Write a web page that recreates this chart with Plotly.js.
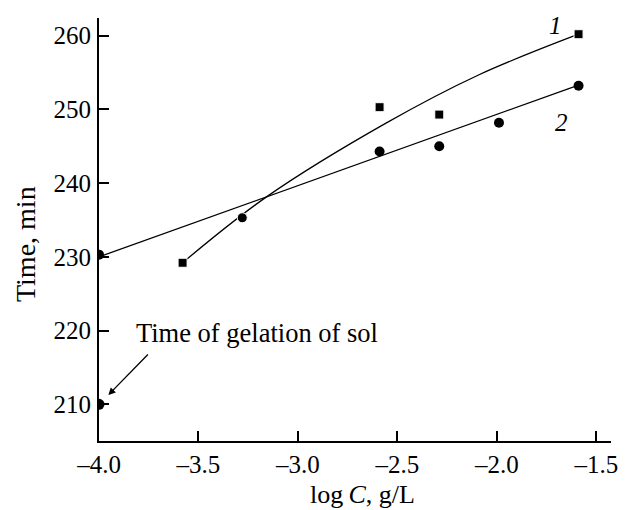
<!DOCTYPE html>
<html>
<head>
<meta charset="utf-8">
<script src="https://cdn.plot.ly/plotly-3.0.1.min.js"></script>
<style>html,body{margin:0;padding:0;background:#fff;}#chart{width:637px;height:510px;}</style>
</head>
<body>
<div id="chart"></div>
<script>
// Series 1 (squares) measured points
const x1 = [-3.58, -3.28, -2.59, -2.29, -1.59];
const y1 = [229.2, 235.3, 250.3, 249.3, 260.2];
const sym1 = ['square', 'circle', 'square', 'square', 'square'];
// Series 2 (circles) measured points
const x2 = [-4.0, -2.59, -2.29, -1.99, -1.59];
const y2 = [230.3, 244.3, 245.0, 248.2, 253.2];
// Gelation time of sol
const xGel = [-4.0];
const yGel = [210.0];
// Fitted curve 1
const fit1x = [-3.58, -3.16, -2.56, -2.09, -1.59];
const fit1y = [229.2, 238.1, 248.1, 254.7, 260.2];
// Fitted line 2
const fit2x = [-4.0, -1.59];
const fit2y = [230.0, 253.3];
// Ticks
const xTicks = [-4.0, -3.5, -3.0, -2.5, -2.0, -1.5];
const yTicks = [210, 220, 230, 240, 250, 260];

const FONT = 'Liberation Serif, Times New Roman, serif';
const traces = [
  {x: fit1x, y: fit1y, mode: 'lines', line: {color: '#000', width: 1.3, shape: 'spline', smoothing: 1}, hoverinfo: 'skip'},
  {x: fit2x, y: fit2y, mode: 'lines', line: {color: '#000', width: 1.3}, hoverinfo: 'skip'},
  {x: x1, y: y1, mode: 'markers', marker: {symbol: sym1, size: [9, 10, 9, 9, 9], color: '#000', opacity: 1}},
  {x: x2, y: y2, mode: 'markers', marker: {symbol: 'circle', size: 10, color: '#000', opacity: 1}},
  {x: xGel, y: yGel, mode: 'markers', marker: {symbol: 'circle', size: 11, color: '#000', opacity: 1}}
];

const layout = {
  width: 637, height: 510,
  margin: {l: 99, r: 26, t: 18, b: 69},
  paper_bgcolor: '#fff', plot_bgcolor: '#fff',
  showlegend: false,
  font: {family: FONT, color: '#000', size: 25},
  xaxis: {
    range: [-4.0, -1.427], tickvals: xTicks, ticktext: xTicks.map(v => (v < 0 ? '\u2013' : '') + Math.abs(v).toFixed(1)),
    ticks: 'inside', ticklen: 10, tickwidth: 2, tickcolor: '#000',
    showline: true, linewidth: 2, linecolor: '#000', mirror: false,
    showgrid: false, zeroline: false,
    tickfont: {family: FONT, size: 25, color: '#000'}
  },
  yaxis: {
    range: [205.02, 262.4], tickvals: yTicks,
    ticks: 'inside', ticklen: 10, tickwidth: 2, tickcolor: '#000',
    showline: true, linewidth: 2, linecolor: '#000', mirror: false,
    showgrid: false, zeroline: false,
    ticklabelstandoff: 1,
    tickfont: {family: FONT, size: 25, color: '#000'}
  },
  annotations: [
    {x: 0.5156, y: -0.1253, xref: 'paper', yref: 'paper', xanchor: 'center', yanchor: 'middle',
     text: 'log\u2009<i>C</i>, g/L', showarrow: false,
     font: {family: FONT, size: 26, color: '#000'}},
    {x: -0.1445, y: 0.4657, xref: 'paper', yref: 'paper', xanchor: 'center', yanchor: 'middle',
     text: 'Time, min', textangle: -90, showarrow: false,
     font: {family: FONT, size: 28, color: '#000'}},
    {x: -3.208, y: 219.67, xref: 'x', yref: 'y', xanchor: 'center', yanchor: 'middle',
     text: 'Time of gelation of sol', showarrow: false,
     font: {family: FONT, size: 26.5, color: '#000'}},
    {x: -3.953, y: 211.26, xref: 'x', yref: 'y', text: '', showarrow: true, ax: 41, ay: -42,
     arrowhead: 2, arrowsize: 1.1, arrowwidth: 1.3, arrowcolor: '#000'},
    {x: -1.704, y: 261.45, xref: 'x', yref: 'y', xanchor: 'center', yanchor: 'middle',
     text: '<i>1</i>', showarrow: false,
     font: {family: FONT, size: 25, color: '#000'}},
    {x: -1.678, y: 248.29, xref: 'x', yref: 'y', xanchor: 'center', yanchor: 'middle',
     text: '<i>2</i>', showarrow: false,
     font: {family: FONT, size: 25, color: '#000'}}
  ]
};

Plotly.newPlot('chart', traces, layout, {displayModeBar: false, staticPlot: true});
</script>
</body>
</html>
